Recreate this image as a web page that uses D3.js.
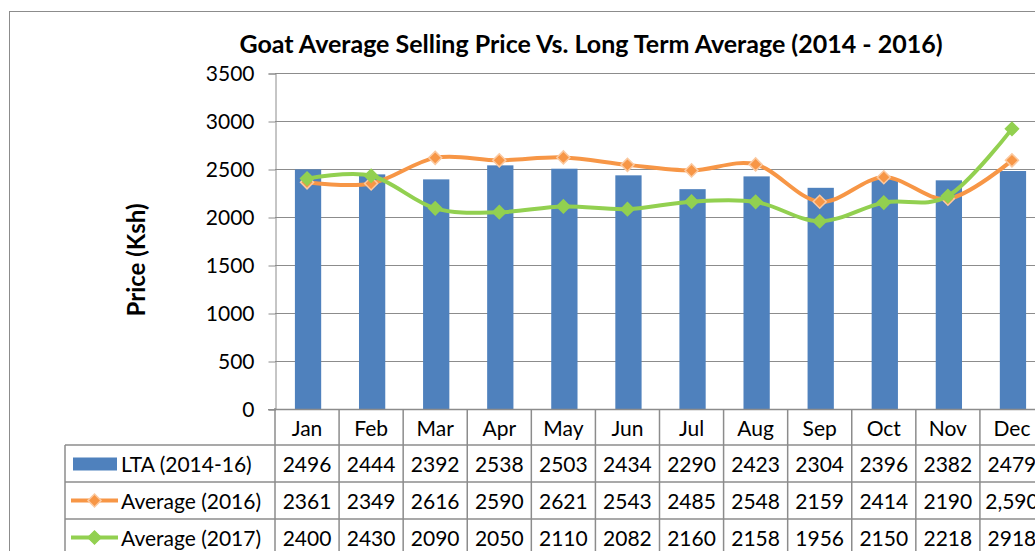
<!DOCTYPE html>
<html>
<head>
<meta charset="utf-8">
<script src="https://cdn.jsdelivr.net/npm/d3@7"></script>
<style>
  body { margin: 0; background: #fff; }
  svg { display: block; font-family: Lato, "Open Sans", sans-serif; }
</style>
</head>
<body>
<div id="chart"></div>
<script>
// data
const months = ['Jan', 'Feb', 'Mar', 'Apr', 'May', 'Jun', 'Jul', 'Aug', 'Sep', 'Oct', 'Nov', 'Dec'];
const lta = [2496, 2444, 2392, 2538, 2503, 2434, 2290, 2423, 2304, 2396, 2382, 2479];
const avg2016 = [2361, 2349, 2616, 2590, 2621, 2543, 2485, 2548, 2159, 2414, 2190, 2590];
const avg2017 = [2400, 2430, 2090, 2050, 2110, 2082, 2160, 2158, 1956, 2150, 2218, 2918];
const yTicks = [0, 500, 1000, 1500, 2000, 2500, 3000, 3500];

const width = 1035;
const height = 551;
const plot = { left: 275, right: 1044, top: 73, bottom: 409 };
const rowH = 37;
const tableLeft = 65;

const grey = '#8c8c8c';
const blue = '#4f81bd';
const orange = '#f79646';
const green = '#92d050';

const svg = d3.select('#chart').append('svg')
    .attr('width', width)
    .attr('height', height);

// outer chart border
svg.append('rect')
    .attr('x', 9.5).attr('y', 11.5)
    .attr('width', 1200).attr('height', 800)
    .attr('fill', 'none')
    .attr('stroke', grey);

const xScale = d3.scaleBand()
    .domain(months)
    .range([plot.left, plot.right]);

const yScale = d3.scaleLinear()
    .domain([0, 3500])
    .range([plot.bottom, plot.top]);

// title
svg.append('text')
    .attr('x', 591).attr('y', 53)
    .attr('text-anchor', 'middle')
    .style('font-size', '25px')
    .style('font-weight', 'bold')
    .text('Goat Average Selling Price Vs. Long Term Average (2014 - 2016)');

// gridlines
svg.append('g')
    .selectAll('line')
    .data(yTicks.slice(1))
    .enter().append('line')
    .attr('x1', plot.left).attr('x2', plot.right)
    .attr('y1', d => Math.round(yScale(d)) + 0.5)
    .attr('y2', d => Math.round(yScale(d)) + 0.5)
    .attr('stroke', grey);

// y axis
const yAxis = d3.axisLeft(yScale)
    .tickValues(yTicks)
    .tickFormat(d3.format('d'))
    .tickSize(7)
    .tickPadding(14);
const yG = svg.append('g')
    .attr('transform', 'translate(' + (plot.left + 0.5) + ',0.5)')
    .call(yAxis);
yG.select('.domain').attr('stroke', grey);
yG.selectAll('.tick line').attr('stroke', grey);
yG.selectAll('.tick text')
    .attr('fill', '#000')
    .style('font-size', '21px')
    .style('font-family', 'Lato, sans-serif');

svg.append('text')
    .attr('transform', 'translate(145,260) rotate(-90)')
    .attr('text-anchor', 'middle')
    .style('font-size', '24px')
    .style('font-weight', 'bold')
    .text('Price (Ksh)');

// bars
const barW = xScale.bandwidth() * 0.41;
svg.append('g')
    .selectAll('rect')
    .data(lta)
    .enter().append('rect')
    .attr('x', (d, i) => xScale(months[i]) + xScale.bandwidth() / 2 - barW / 2 + 1)
    .attr('y', d => yScale(d))
    .attr('width', barW)
    .attr('height', d => yScale(0) - yScale(d))
    .attr('fill', blue);

// lines
const line = d3.line()
    .x((d, i) => xScale(months[i]) + xScale.bandwidth() / 2)
    .y(d => yScale(d))
    .curve(d3.curveCardinal.tension(0));

const diamond = d3.symbol().type(d3.symbolSquare).size(85);

function drawSeries(values, color, markFill, markStroke) {
    svg.append('path')
        .datum(values)
        .attr('d', line)
        .attr('fill', 'none')
        .attr('stroke', color)
        .attr('stroke-width', 4)
        .attr('stroke-linejoin', 'round');
    svg.append('g')
        .selectAll('path')
        .data(values)
        .enter().append('path')
        .attr('d', diamond)
        .attr('transform', (d, i) => 'translate(' + (xScale(months[i]) + xScale.bandwidth() / 2) + ',' + yScale(d) + ') rotate(45)')
        .attr('fill', markFill)
        .attr('stroke', markStroke)
        .attr('stroke-width', 1.5);
}
drawSeries(avg2016, orange, orange, '#fbc9a0');
drawSeries(avg2017, green, green, green);

// data table
const table = svg.append('g');
const tableBottom = height + 20;

// horizontal lines
table.append('line')
    .attr('x1', plot.left).attr('x2', plot.right)
    .attr('y1', plot.bottom + 0.5).attr('y2', plot.bottom + 0.5)
    .attr('stroke', grey).attr('stroke-width', 1.5);
[1, 2, 3].forEach(r => {
    const y = plot.bottom + rowH * r - 1;
    table.append('line')
        .attr('x1', tableLeft).attr('x2', plot.right)
        .attr('y1', y).attr('y2', y)
        .attr('stroke', grey).attr('stroke-width', 1.5);
});
// vertical lines
table.append('line')
    .attr('x1', tableLeft).attr('x2', tableLeft)
    .attr('y1', plot.bottom + rowH - 1).attr('y2', tableBottom)
    .attr('stroke', grey).attr('stroke-width', 1.5);
months.concat(['end']).forEach((m, i) => {
    const x = plot.left + i * xScale.step();
    table.append('line')
        .attr('x1', x).attr('x2', x)
        .attr('y1', i === 0 ? plot.bottom - 1 : plot.bottom)
        .attr('y2', tableBottom)
        .attr('stroke', grey).attr('stroke-width', 1.5);
});
// axis tick below 0 on left
table.append('line')
    .attr('x1', plot.left - 7).attr('x2', plot.left)
    .attr('y1', plot.bottom + 0.5).attr('y2', plot.bottom + 0.5)
    .attr('stroke', grey);

const cellFont = '21px';
// month headers
table.selectAll('.month')
    .data(months)
    .enter().append('text')
    .attr('class', 'month')
    .attr('x', d => xScale(d) + xScale.bandwidth() / 2)
    .attr('y', plot.bottom + rowH / 2 + 8)
    .attr('text-anchor', 'middle')
    .style('font-size', cellFont)
    .text(d => d);

const avg2016Labels = avg2016.map((v, i) => i === 11 ? d3.format(',')(v) : String(v));
const rows = [
    { name: 'LTA (2014-16)', labels: lta.map(String), kind: 'bar', color: blue },
    { name: 'Average (2016)', labels: avg2016Labels, kind: 'line', color: orange, stroke: '#fbc9a0' },
    { name: 'Average (2017)', labels: avg2017.map(String), kind: 'line', color: green, stroke: green }
];

rows.forEach((row, r) => {
    const yTop = plot.bottom + rowH * (r + 1);
    const yMid = yTop + rowH / 2 - 1;
    // legend key
    if (row.kind === 'bar') {
        table.append('rect')
            .attr('x', 73).attr('y', yMid - 6)
            .attr('width', 44).attr('height', 13)
            .attr('fill', row.color);
    } else {
        table.append('line')
            .attr('x1', 71).attr('x2', 118)
            .attr('y1', yMid).attr('y2', yMid)
            .attr('stroke', row.color).attr('stroke-width', 4);
        table.append('path')
            .attr('d', diamond)
            .attr('transform', 'translate(94.5,' + yMid + ') rotate(45)')
            .attr('fill', row.color)
            .attr('stroke', row.stroke)
            .attr('stroke-width', 1.5);
    }
    table.append('text')
        .attr('x', 121).attr('y', yMid + 8)
        .style('font-size', cellFont)
        .text(row.name);
    table.selectAll('.v' + r)
        .data(row.labels)
        .enter().append('text')
        .attr('x', (d, i) => xScale(months[i]) + xScale.bandwidth() / 2)
        .attr('y', yMid + 8)
        .attr('text-anchor', 'middle')
        .style('font-size', cellFont)
        .text(d => d);
});
</script>
</body>
</html>
